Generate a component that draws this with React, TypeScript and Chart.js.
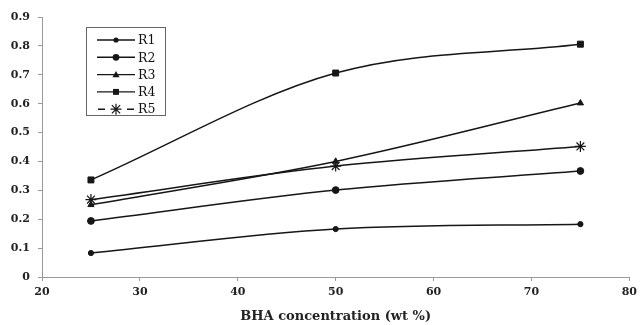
import React, { useEffect, useRef } from "react";
import { Chart, registerables } from "chart.js";

Chart.register(...registerables);

const xValues = [25, 50, 75];
const seriesLabels = ["R1", "R2", "R3", "R4", "R5"];
const r1 = [0.083, 0.166, 0.183];
const r2 = [0.194, 0.301, 0.367];
const r3 = [0.25, 0.4, 0.602];
const r4 = [0.336, 0.706, 0.806];
const r5 = [0.268, 0.384, 0.452];
const xTicks = [20, 30, 40, 50, 60, 70, 80];
const yTicks = [0, 0.1, 0.2, 0.3, 0.4, 0.5, 0.6, 0.7, 0.8, 0.9];
const xTitle = "BHA concentration (wt %)";

const LINE = "#161616";
const AXIS = "#9a9a9a";

const styles = [
  { pointStyle: "circle", radius: 2.6 },
  { pointStyle: "circle", radius: 3.4 },
  { pointStyle: "triangle", radius: 3.6 },
  { pointStyle: "rect", radius: 4.2 },
  { pointStyle: "star", radius: 5.5 },
];

function drawMarker(ctx: any, style: string, r: number, x: number, y: number) {
  ctx.save();
  ctx.fillStyle = LINE;
  ctx.strokeStyle = LINE;
  ctx.lineWidth = 1.2;
  ctx.beginPath();
  if (style === "circle") {
    ctx.arc(x, y, r, 0, Math.PI * 2);
    ctx.fill();
  } else if (style === "triangle") {
    ctx.moveTo(x, y - r);
    ctx.lineTo(x + r, y + r * 0.75);
    ctx.lineTo(x - r, y + r * 0.75);
    ctx.closePath();
    ctx.fill();
  } else if (style === "rect") {
    const s = r * Math.SQRT1_2;
    ctx.fillRect(x - s, y - s, 2 * s, 2 * s);
  } else {
    const s = r * 0.75;
    ctx.moveTo(x - s, y - s);
    ctx.lineTo(x + s, y + s);
    ctx.moveTo(x + s, y - s);
    ctx.lineTo(x - s, y + s);
    ctx.moveTo(x, y - r);
    ctx.lineTo(x, y + r);
    ctx.moveTo(x - r, y);
    ctx.lineTo(x + r, y);
    ctx.stroke();
  }
  ctx.restore();
}

const legendPlugin = {
  id: "boxLegend",
  afterDraw(chart: any) {
    const { ctx, chartArea } = chart;
    const left = chartArea.left + 44;
    const top = chartArea.top + 10;
    const w = 79;
    const h = 88;
    ctx.save();
    ctx.strokeStyle = "#666";
    ctx.lineWidth = 1;
    ctx.strokeRect(left + 0.5, top + 0.5, w, h);
    ctx.font = "12.5px 'DejaVu Serif'";
    ctx.textBaseline = "middle";
    chart.data.datasets.forEach((ds: any, i: number) => {
      const y = top + 13 + i * 17.3;
      ctx.strokeStyle = LINE;
      ctx.lineWidth = 1.4;
      ctx.beginPath();
      if (i === 4) {
        ctx.moveTo(left + 12, y);
        ctx.lineTo(left + 19, y);
        ctx.moveTo(left + 41, y);
        ctx.lineTo(left + 48, y);
      } else {
        ctx.moveTo(left + 11, y);
        ctx.lineTo(left + 49, y);
      }
      ctx.stroke();
      drawMarker(ctx, ds.pointStyle, ds.pointRadius, left + 30, y);
      ctx.fillStyle = "#111";
      ctx.fillText(ds.label, left + 52, y + 1);
    });
    ctx.restore();
  },
};

export default function App() {
  const ref = useRef<HTMLCanvasElement | null>(null);
  useEffect(() => {
    document.body.style.margin = "0";
    const allSeries = [r1, r2, r3, r4, r5];
    const datasets = allSeries.map((vals, i) => ({
      label: seriesLabels[i],
      data: vals.map((v, j) => ({ x: xValues[j], y: v })),
      borderColor: LINE,
      backgroundColor: LINE,
      borderWidth: 1.5,
      pointStyle: styles[i].pointStyle,
      pointRadius: styles[i].radius,
      pointBorderWidth: i === 4 ? 1.2 : 1,
      pointBorderColor: LINE,
      pointBackgroundColor: LINE,
      cubicInterpolationMode: "monotone",
      fill: false,
    }));
    const tickFont = { family: "'DejaVu Serif'", size: 11, weight: "bold" };
    const chart = new Chart(ref.current!, {
      type: "line",
      data: { datasets } as any,
      options: {
        animation: false,
        responsive: false,
        maintainAspectRatio: false,
        layout: { padding: { left: 0, right: 12, top: 17, bottom: 0 } },
        plugins: { legend: { display: false }, tooltip: { enabled: false } },
        scales: {
          x: {
            type: "linear",
            min: 20,
            max: 80,
            afterBuildTicks: (s: any) => {
              s.ticks = xTicks.map((v) => ({ value: v }));
            },
            afterFit: (s: any) => {
              s.height = 48;
            },
            border: { color: AXIS, width: 1 },
            grid: { drawOnChartArea: false, drawTicks: true, tickLength: 4, color: AXIS },
            ticks: {
              padding: 5,
              color: "#222",
              font: tickFont,
              maxRotation: 0,
            },
            title: {
              display: true,
              text: xTitle,
              color: "#222",
              font: { family: "'DejaVu Serif'", size: 13, weight: "bold" },
              padding: { top: 0, bottom: 1 },
            },
          },
          y: {
            type: "linear",
            min: 0,
            max: 0.9,
            afterBuildTicks: (s: any) => {
              s.ticks = yTicks.map((v) => ({ value: v }));
            },
            afterFit: (s: any) => {
              s.width = 42;
            },
            border: { color: AXIS, width: 1 },
            grid: { drawOnChartArea: false, drawTicks: true, tickLength: 4, color: AXIS },
            ticks: {
              padding: 8,
              color: "#222",
              font: tickFont,
              callback: (v: any) => String(Math.round(Number(v) * 10) / 10),
            },
          },
        },
      } as any,
      plugins: [legendPlugin],
    });
    return () => chart.destroy();
  }, []);
  return (
    <div style={{ width: 642, height: 325, background: "#fff" }}>
      <canvas ref={ref} width={642} height={325} style={{ display: "block" }} />
    </div>
  );
}
